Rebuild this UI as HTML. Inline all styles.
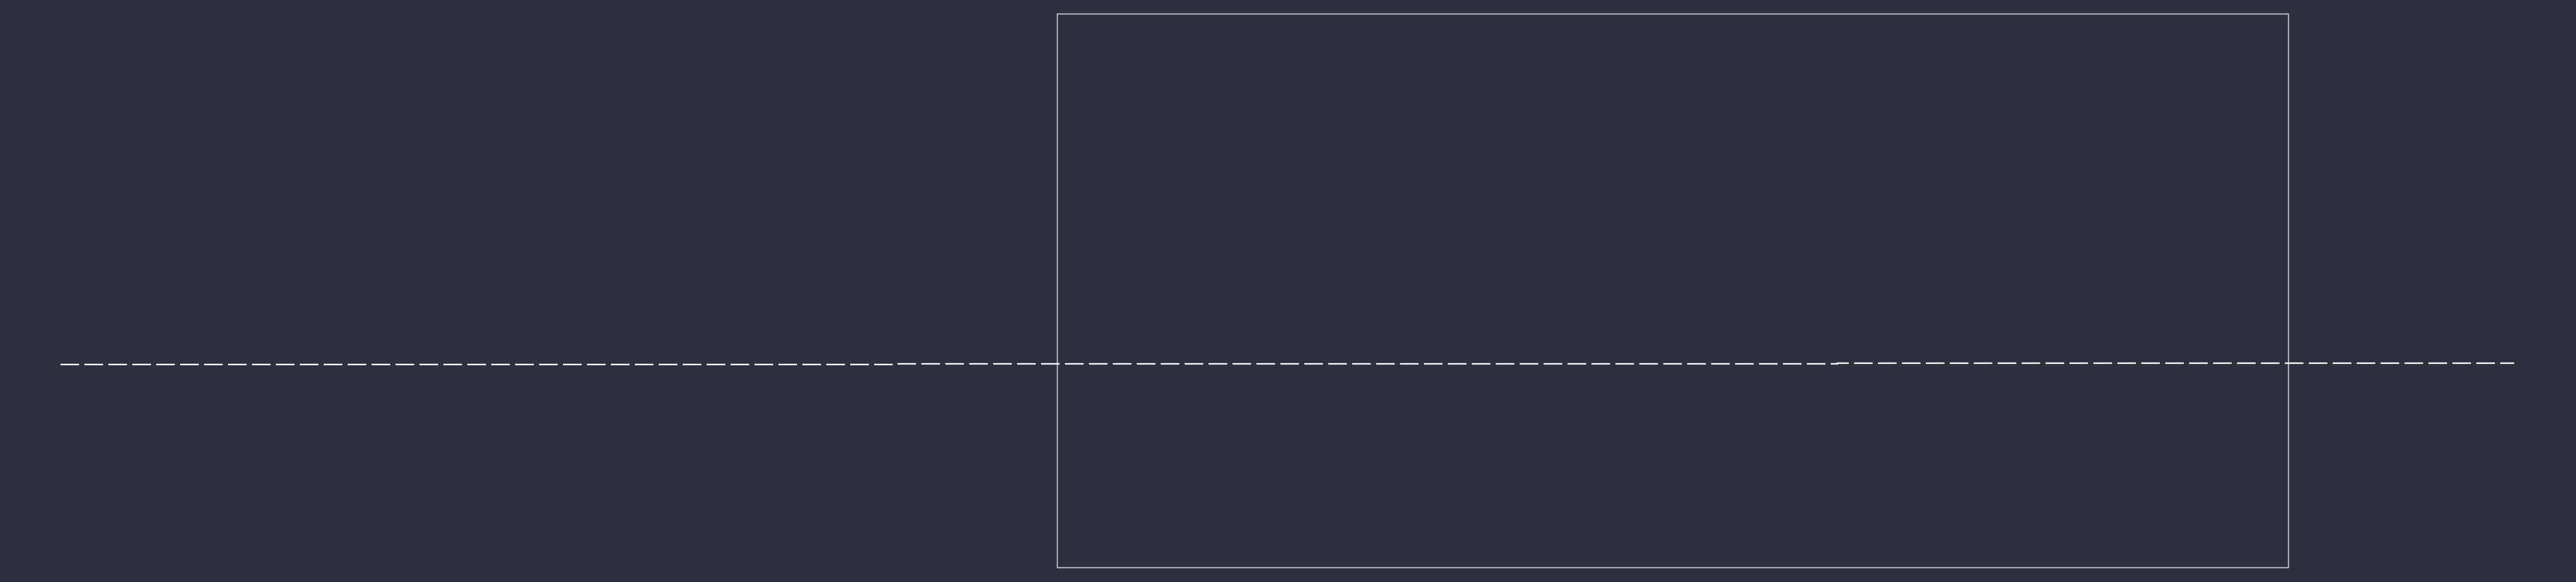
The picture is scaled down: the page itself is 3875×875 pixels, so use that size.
<!DOCTYPE html>
<html>
<head>
<meta charset="utf-8">
<style>
html,body{margin:0;padding:0;background:#2e3040;}
svg{display:block;}
</style>
</head>
<body>
<svg id="chart" width="3875" height="875" viewBox="0 0 3875 875" xmlns="http://www.w3.org/2000/svg">
  <rect x="0" y="0" width="3875" height="875" fill="#2e3040"/>
  <rect x="1590.5" y="21" width="1852" height="832.5" fill="none" stroke="#d4d4dc" stroke-width="1.5"/>
  <g id="series"></g>
</svg>
<script>
// step breakpoints (x domain) and values (y domain)
const stepStarts = [0, 1256, 2673];
const stepValues = [0, 1, 2];
const domainEnd = 3691;

const x0 = 91, x1 = 3782;
function xScale(v){ return x0 + (v / domainEnd) * (x1 - x0); }
function yScale(v){ return 548 - v * 1.0; }

const g = document.getElementById('series');
let d = '';
for (let i = 0; i < stepStarts.length; i++) {
  const xs = xScale(stepStarts[i]);
  const xe = xScale(i + 1 < stepStarts.length ? stepStarts[i + 1] : domainEnd);
  const y = yScale(stepValues[i]);
  d += (i === 0 ? 'M' : 'L') + xs + ',' + y + ' L' + xe + ',' + y + ' ';
}
const path = document.createElementNS('http://www.w3.org/2000/svg', 'path');
path.setAttribute('d', d);
path.setAttribute('fill', 'none');
path.setAttribute('stroke', '#ffffff');
path.setAttribute('stroke-width', '2.2');
path.setAttribute('stroke-dasharray', '28 8');


g.appendChild(path);
</script>
</body>
</html>
